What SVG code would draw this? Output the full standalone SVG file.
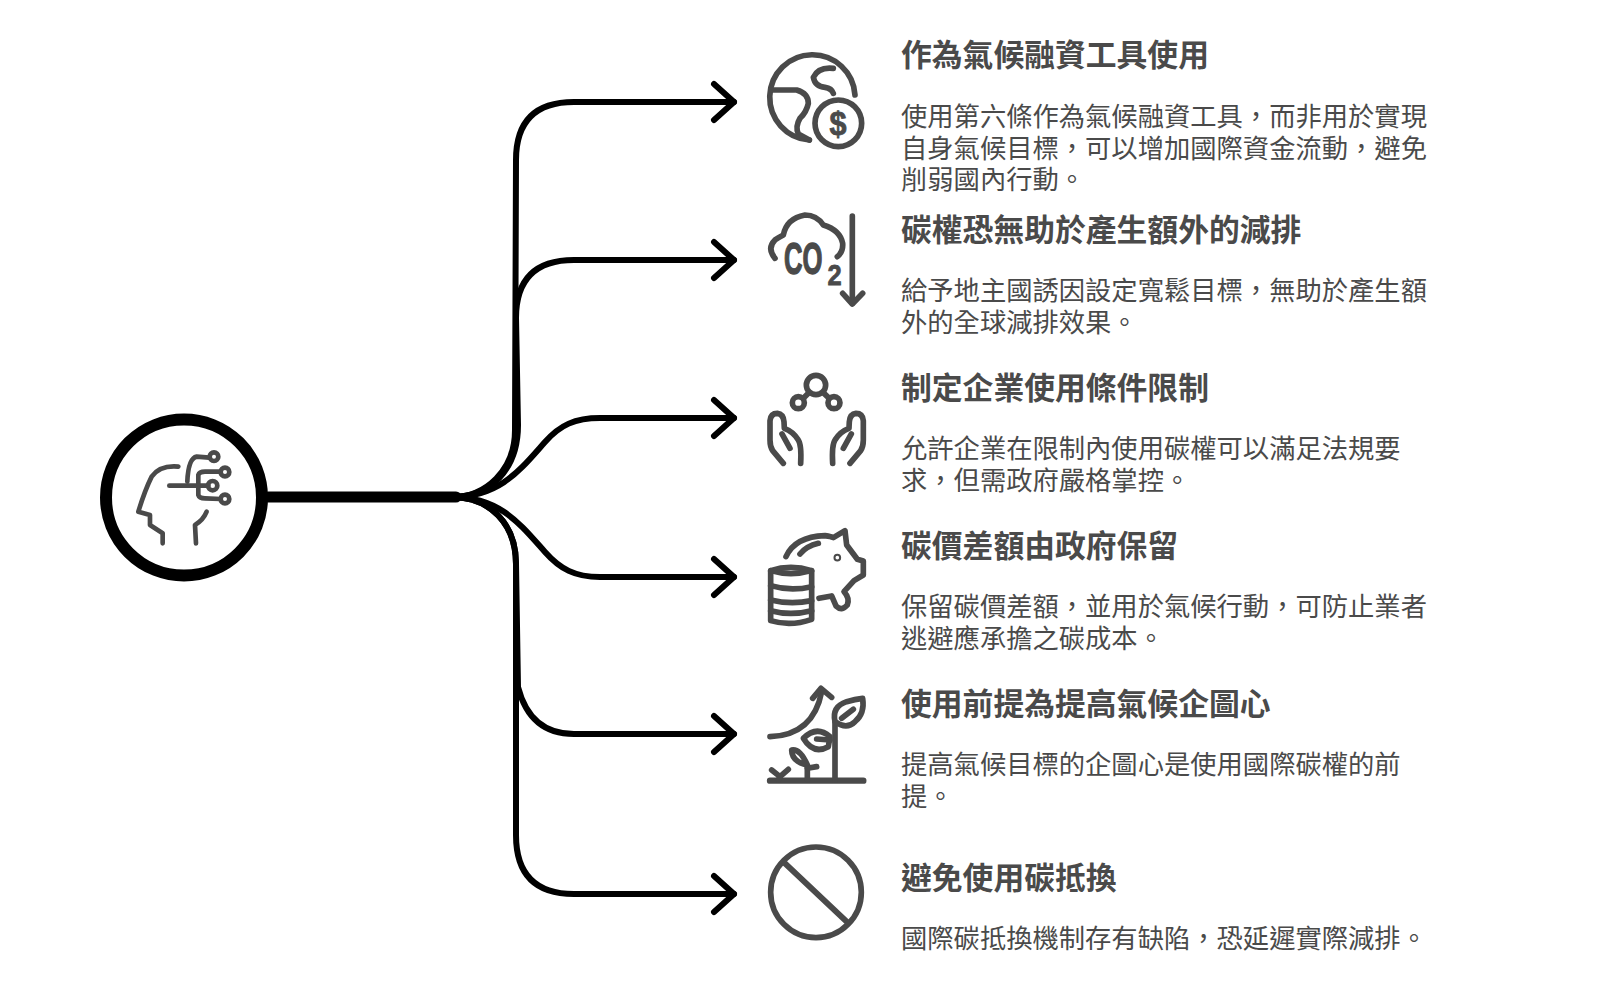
<svg xmlns="http://www.w3.org/2000/svg" width="1600" height="993" viewBox="0 0 1600 993">
<style>
.h{font-family:"Noto Sans CJK TC","Noto Sans CJK SC",sans-serif;font-size:30.8px;font-weight:700;fill:#4a4a4a}
.b{font-family:"Noto Sans CJK TC","Noto Sans CJK SC",sans-serif;font-size:26.3px;fill:#4a4a4a}
.c{fill:none;stroke:#000;stroke-width:6;stroke-linecap:round;stroke-linejoin:round}
.i{fill:none;stroke:#4a4a4a;stroke-width:17;stroke-linecap:round;stroke-linejoin:round}
.l{font-family:"Liberation Sans",sans-serif;font-weight:700;fill:#4a4a4a;stroke:#4a4a4a;stroke-width:.8}
</style>
<defs>
<path id="ah" class="c" d="M-20 -18L0 0L-20 18"/>
<g id="hand"><path d="M100 310L68 272Q60 260 60 240L60 182Q62 160 82 160Q100 162 102 185L103 205Q130 215 145 240Q155 255 152 310"/><path d="M96 222L120 265"/></g>
</defs>
<rect width="1600" height="993" fill="#fff"/>
<g id="connectors">
<path class="c" style="stroke-width:11" d="M268 497L456 497"/>
<path class="c" d="M452 497C486 497 515 470 515 430L516 160Q516 102 574 102L734 102"/>
<path class="c" d="M452 497C490 497 518 470 518 425L516 318Q516 260 574 260L734 260"/>
<path class="c" d="M452 497C500 497 520 470 545 442C560 425 575 418 600 418L734 418"/>
<path class="c" d="M452 497C500 497 520 524 545 552C560 569 575 577 600 577L734 577"/>
<path class="c" d="M452 497C490 497 516 524 516 564L518 687Q530 734 574 734L734 734"/>
<path class="c" d="M452 497C490 497 516 524 516 564L516 835Q516 894 574 894L734 894"/>
<use href="#ah" x="734" y="102"/><use href="#ah" x="734" y="260"/><use href="#ah" x="734" y="418"/><use href="#ah" x="734" y="577"/><use href="#ah" x="734" y="734"/><use href="#ah" x="734" y="894"/>
</g>
<g id="root">
<circle cx="184" cy="497.500" r="78" fill="#fff" stroke="#000" stroke-width="12"/>
<g class="i" style="stroke-width:14" transform="translate(80 390) scale(.3333)">
<path d="M295 230Q240 225 215 260Q195 300 175 365L210 375L210 405L248 430L248 460"/><path d="M348 460L345 405Q370 390 380 365"/>
<path d="M268 287L385 287"/><path d="M322 275Q325 205 350 200L388 203"/>
<path d="M355 287L355 255Q358 245 375 245L422 245"/><path d="M355 287L355 315Q358 325 375 325L422 327"/>
<circle cx="402" cy="200" r="13"/><circle cx="435" cy="246" r="13"/><circle cx="398" cy="287" r="14"/><circle cx="435" cy="327" r="13"/>
</g>
</g>
<g id="n1">
<g class="i" transform="translate(750 40) scale(.3333)">
<path d="M315 165A128 128 0 1 0 178 300"/>
<path d="M250 85Q205 80 190 112Q195 140 225 142Q245 145 250 160"/>
<path d="M65 150L140 150Q175 160 175 190Q170 215 150 235Q135 260 145 282L178 300"/>
<circle cx="265" cy="250" r="70"/>
</g>
<text class="l" transform="translate(838 135) scale(.9 1)" font-size="34" text-anchor="middle">$</text>
<text class="h" x="901" y="66">作為氣候融資工具使用</text>
<text class="b"><tspan x="901" y="126">使用第六條作為氣候融資工具&#xFF0C;而非用於實現</tspan><tspan x="901" y="157.500">自身氣候目標&#xFF0C;可以增加國際資金流動&#xFF0C;避免</tspan><tspan x="901" y="189">削弱國內行動。</tspan></text>
</g>
<g id="n2">
<g class="i" transform="translate(750 40) scale(.3333)">
<path d="M75 655Q50 625 75 600Q90 590 100 585Q110 535 165 525Q200 525 220 555Q270 570 278 610Q280 635 262 650"/>
<path d="M307 528L307 790"/><path d="M278 760L307 792L338 760"/>
</g>
<text class="l" transform="translate(784 274) scale(.57 1)" font-size="45" style="stroke-width:1.4">CO</text>
<text class="l" transform="translate(827.500 285) scale(.85 1)" font-size="30">2</text>
<text class="h" x="901" y="241">碳權恐無助於產生額外的減排</text>
<text class="b"><tspan x="901" y="300">給予地主國誘因設定寬鬆目標&#xFF0C;無助於產生額</tspan><tspan x="901" y="331.500">外的全球減排效果。</tspan></text>
</g>
<g id="n3">
<g class="i" transform="translate(750 360) scale(.3333)">
<circle cx="198" cy="75" r="29"/><circle cx="145" cy="128" r="18"/><circle cx="252" cy="128" r="18"/>
<path d="M160 115L175 100"/><path d="M238 115L222 100"/>
<use href="#hand"/><use href="#hand" transform="translate(400 0) scale(-1 1)"/>
</g>
<text class="h" x="901" y="399">制定企業使用條件限制</text>
<text class="b"><tspan x="901" y="458">允許企業在限制內使用碳權可以滿足法規要</tspan><tspan x="901" y="490">求&#xFF0C;但需政府嚴格掌控。</tspan></text>
</g>
<g id="n4">
<g class="i" transform="translate(750 360) scale(.3333)">
<path d="M108 590Q135 530 225 527Q245 530 250 533L285 512L290 555L322 598L340 603L340 645L312 662L282 695Q300 715 292 735Q275 755 258 738L245 708L207 715"/>
<path d="M150 582Q170 558 205 550"/>
<circle cx="262" cy="593" r="3"/>
<path d="M62 632Q122 612 185 632L185 778Q122 800 62 782Z"/><path d="M62 632Q122 650 185 632"/>
<path d="M62 677Q122 695 185 680"/><path d="M62 720Q122 735 185 722"/><path d="M62 752Q122 768 185 752"/>
</g>
<text class="h" x="901" y="557">碳價差額由政府保留</text>
<text class="b"><tspan x="901" y="616">保留碳價差額&#xFF0C;並用於氣候行動&#xFF0C;可防止業者</tspan><tspan x="901" y="647.500">逃避應承擔之碳成本。</tspan></text>
</g>
<g id="n5">
<g class="i" transform="translate(750 670) scale(.3333)">
<path d="M60 200Q190 195 215 65"/><path d="M188 85L213 55L245 82"/>
<path d="M60 332L340 332" style="stroke-width:19"/><path d="M255 330L255 155"/>
<path d="M255 155Q245 110 290 95Q315 88 338 85Q345 130 315 155Q290 180 255 155Z"/><path d="M275 145L310 118"/>
<path d="M240 200Q200 165 160 205Q190 255 235 230Z"/><path d="M200 207L240 210"/>
<path d="M172 330L172 285Q125 275 125 240Q150 235 172 285"/><path d="M172 295L200 290"/>
<path d="M65 300L90 320L115 298"/><path d="M90 320L85 330"/>
</g>
<text class="h" x="901" y="715">使用前提為提高氣候企圖心</text>
<text class="b"><tspan x="901" y="774">提高氣候目標的企圖心是使用國際碳權的前</tspan><tspan x="901" y="805.500">提。</tspan></text>
</g>
<g id="n6">
<g class="i" transform="translate(750 670) scale(.3333)">
<circle cx="198" cy="667" r="136"/><path d="M105 580L290 755" style="stroke-width:18"/>
</g>
<text class="h" x="901" y="889">避免使用碳抵換</text>
<text class="b"><tspan x="901" y="948">國際碳抵換機制存有缺陷&#xFF0C;恐延遲實際減排。</tspan></text>
</g>
</svg>
